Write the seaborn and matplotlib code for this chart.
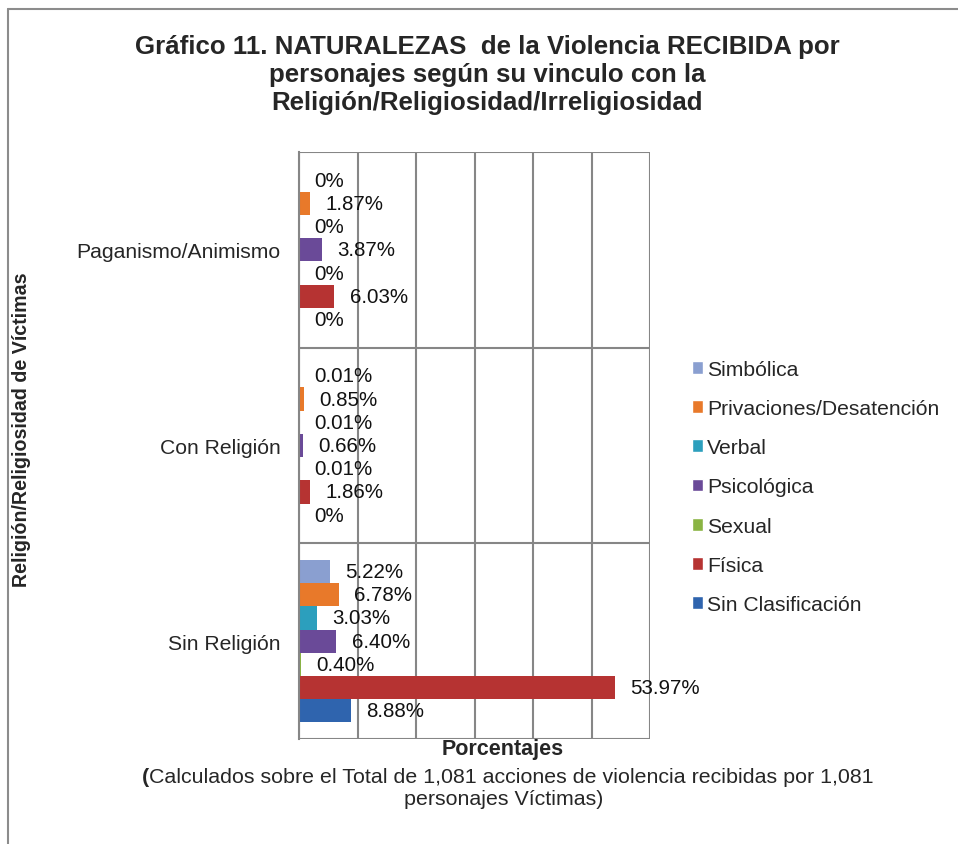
import numpy as np
import pandas as pd
import matplotlib
matplotlib.use("Agg")
import matplotlib.pyplot as plt
import seaborn as sns
from matplotlib.patches import Patch

# ── data ─────────────────────────────────────────────────
categorias = ["Paganismo/Animismo", "Con Religión", "Sin Religión"]
naturalezas = ["Simbólica", "Privaciones/Desatención", "Verbal", "Psicológica",
               "Sexual", "Física", "Sin Clasificación"]
valores = {
    "Simbólica":               [0.00, 0.01, 5.22],
    "Privaciones/Desatención": [1.87, 0.85, 6.78],
    "Verbal":                  [0.00, 0.01, 3.03],
    "Psicológica":             [3.87, 0.66, 6.40],
    "Sexual":                  [0.00, 0.01, 0.40],
    "Física":                  [6.03, 1.86, 53.97],
    "Sin Clasificación":       [0.00, 0.00, 8.88],
}
colores = ["#8A9FD0", "#E8792A", "#2C9FBD", "#6A4A98", "#8AB443", "#B63332", "#2F64AE"]

rows = []
for nat in naturalezas:
    for cat, v in zip(categorias, valores[nat]):
        rows.append({"Categoria": cat, "Naturaleza": nat, "Valor": v})
df = pd.DataFrame(rows)

# ── plot ─────────────────────────────────────────────────
sns.set_style("white")
plt.rcParams["font.family"] = ["Liberation Sans", "DejaVu Sans"]

fig = plt.figure(figsize=(9.58, 8.45), dpi=100)
ax = fig.add_axes([299 / 958, 1 - 740 / 845, 351 / 958, 587 / 845])

sns.barplot(data=df, x="Valor", y="Categoria", hue="Naturaleza",
            order=categorias, hue_order=naturalezas, palette=colores,
            orient="h", width=0.83, saturation=1, ax=ax, legend=False,
            edgecolor="none")

for cont, nat in zip(ax.containers, naturalezas):
    labs = ["0%" if v == 0 else f"{v:.2f}%" for v in valores[nat]]
    ax.bar_label(cont, labels=labs, padding=11, fontsize=14.8, color="#111111")

ax.set_xlim(0, 60)
ax.set_ylim(2.5, -0.5)
ax.set_xticks(np.arange(0, 61, 10))
ax.set_xticklabels([])
ax.tick_params(axis="x", length=0)
ax.set_yticks([-0.5, 0.5, 1.5, 2.5], minor=True)
ax.tick_params(axis="y", which="major", length=0, labelsize=15.2, pad=13.5)
ax.tick_params(axis="y", which="minor", length=5, width=1.5, color="#868686",
               direction="out")
ax.grid(axis="x", color="#868686", linewidth=1.5)
ax.grid(axis="y", which="minor", color="#868686", linewidth=1.5)
ax.set_axisbelow(True)
for s in ["top", "right", "bottom"]:
    ax.spines[s].set_visible(False)
ax.spines["left"].set_color("#868686")
ax.spines["left"].set_linewidth(1.5)
ax.set_xlabel("")
ax.set_ylabel("")

# titles and axis texts
fig.text(487 / 958, 1 - 75 / 845,
         "Gráfico 11. NATURALEZAS  de la Violencia RECIBIDA por\n"
         "personajes según su vinculo con la\n"
         "Religión/Religiosidad/Irreligiosidad",
         ha="center", va="center", fontsize=18.6, fontweight="bold",
         linespacing=1.2)
fig.text(22 / 958, 1 - 430 / 845, "Religión/Religiosidad de Víctimas",
         rotation=90, ha="center", va="center", fontsize=14.1, fontweight="bold")
fig.text(503 / 958, 1 - 750 / 845, "Porcentajes", ha="center", va="center",
         fontsize=15.5, fontweight="bold")

# footnote: bold opening parenthesis, then regular text
line1 = "Calculados sobre el Total de 1,081 acciones de violencia recibidas por 1,081"
t1 = fig.text(511 / 958, 1 - 778 / 845, line1, ha="center", va="center",
              fontsize=15.4)
fig.text(504 / 958, 1 - 800 / 845, "personajes Víctimas)", ha="center",
         va="center", fontsize=15.4)
fig.canvas.draw()
bb = t1.get_window_extent()
fig.text(bb.x0 / fig.bbox.width, 1 - 778 / 845, "(", ha="right", va="center",
         fontsize=15.4, fontweight="bold")

# legend
handles = [Patch(facecolor=c, label=n) for c, n in zip(colores, naturalezas)]
fig.legend(handles=handles, loc="center left",
           bbox_to_anchor=(681 / 958, 1 - 488 / 845), frameon=False,
           fontsize=15.2, handlelength=0.55, handleheight=0.55, handletextpad=0.2,
           labelspacing=0.96, borderpad=0)

# chart border (top and left visible)
fig.add_artist(plt.Line2D([8 / 958, 1.0], [1 - 10 / 845, 1 - 10 / 845],
                          color="#8c8c8c", linewidth=1.5))
fig.add_artist(plt.Line2D([8 / 958, 8 / 958], [0, 1 - 10 / 845],
                          color="#8c8c8c", linewidth=1.5))

fig.savefig("out.png", dpi=100)
